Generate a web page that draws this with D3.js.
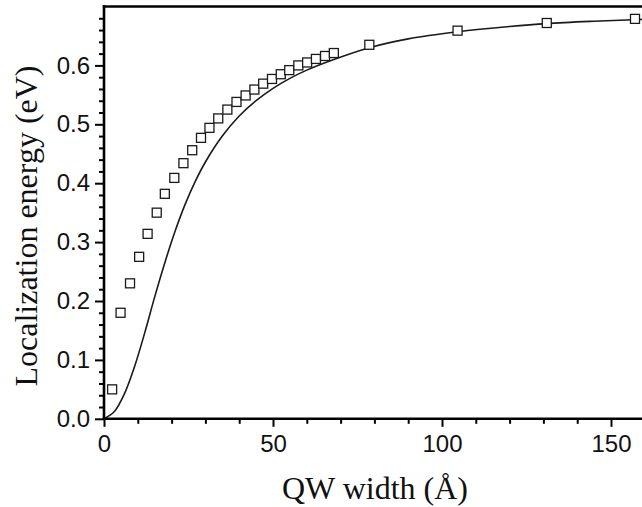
<!DOCTYPE html>
<html>
<head>
<meta charset="utf-8">
<script src="https://cdn.jsdelivr.net/npm/d3@7"></script>
<style>
  html, body { margin: 0; padding: 0; background: #fff; }
  svg { display: block; }
</style>
</head>
<body>
<svg id="chart" width="642" height="507"></svg>
<script>
// Measured data (squares)
const widthData = [2.4, 4.9, 7.7, 10.4, 12.9, 15.6, 18.0, 20.8, 23.5, 26.1, 28.7, 31.2, 33.8, 36.5, 39.2, 41.9, 44.5, 47.1, 49.7, 52.3, 54.8, 57.5, 60.1, 62.7, 65.4, 68.0, 78.5, 104.6, 131.0, 157.1];
const energyData = [0.050, 0.180, 0.230, 0.275, 0.314, 0.350, 0.382, 0.409, 0.434, 0.456, 0.477, 0.494, 0.510, 0.525, 0.538, 0.549, 0.559, 0.569, 0.577, 0.585, 0.592, 0.600, 0.605, 0.611, 0.616, 0.621, 0.635, 0.659, 0.672, 0.679];
// Calculated curve (solid line)
const fitWidth = [0, 3, 6, 9, 12, 15, 18, 21, 24, 27, 30, 35, 40, 45, 50, 55, 60, 68, 78.5, 90, 104.6, 120, 131, 145, 158.6, 170];
const fitEnergy = [0, 0.012, 0.042, 0.088, 0.145, 0.207, 0.265, 0.318, 0.364, 0.403, 0.436, 0.480, 0.514, 0.540, 0.561, 0.578, 0.592, 0.610, 0.630, 0.645, 0.657, 0.666, 0.671, 0.675, 0.678, 0.680];
// Ticks
const xMajorTicks = [0, 50, 100, 150];
const xMinorTicks = [10, 20, 30, 40, 60, 70, 80, 90, 110, 120, 130, 140, 160];
const yMajorTicks = [0.0, 0.1, 0.2, 0.3, 0.4, 0.5, 0.6];
const yMinorTicks = [0.02, 0.04, 0.06, 0.08, 0.12, 0.14, 0.16, 0.18, 0.22, 0.24, 0.26, 0.28, 0.32, 0.34, 0.36, 0.38, 0.42, 0.44, 0.46, 0.48, 0.52, 0.54, 0.56, 0.58, 0.62, 0.64, 0.66, 0.68];
const xTitle = "QW width (Å)";
const yTitle = "Localization energy (eV)";

const svg = d3.select("#chart");
const x0 = 104, xPerUnit = 3.38;
const x = d3.scaleLinear().domain([0, 170]).range([x0, x0 + 170 * xPerUnit]);
const y = d3.scaleLinear().domain([0, 0.7]).range([418.8, 418.8 - 0.7 * 589]);

const tickFont = "'Liberation Sans', Arial, sans-serif";
const titleFont = "'Liberation Serif', 'Times New Roman', serif";

// Curve
const line = d3.line().x((d, i) => x(fitWidth[i])).y((d, i) => y(fitEnergy[i])).curve(d3.curveCatmullRom.alpha(0.5));
svg.append("path")
  .datum(fitWidth)
  .attr("d", line)
  .attr("fill", "none")
  .attr("stroke", "#1a1a1a")
  .attr("stroke-width", 1.6);

// Squares
const sq = 9;
svg.append("g").selectAll("rect")
  .data(widthData)
  .join("rect")
  .attr("x", (d) => x(d) - sq / 2)
  .attr("y", (d, i) => y(energyData[i]) - sq / 2)
  .attr("width", sq)
  .attr("height", sq)
  .attr("fill", "#fff")
  .attr("stroke", "#1a1a1a")
  .attr("stroke-width", 1.3);

// Axes
function styleAxis(g, width) {
  g.select(".domain").remove();
  g.selectAll(".tick line").attr("stroke", "#000").attr("stroke-width", width);
}
const yAxisG = svg.append("g").attr("transform", `translate(${x0},0)`);
yAxisG.call(d3.axisLeft(y).tickValues(yMinorTicks).tickSize(5).tickFormat(""))
  .call((g) => styleAxis(g, 2));
const yAxisMajor = svg.append("g").attr("transform", `translate(${x0},0)`);
yAxisMajor.call(d3.axisLeft(y).tickValues(yMajorTicks).tickSize(9).tickPadding(5).tickFormat(d3.format(".1f")))
  .call((g) => styleAxis(g, 2));
yAxisMajor.selectAll("text")
  .attr("font-family", tickFont)
  .attr("font-size", 24)
  .attr("fill", "#111");

const xAxisG = svg.append("g").attr("transform", `translate(0,${y(0)})`);
xAxisG.call(d3.axisBottom(x).tickValues(xMinorTicks).tickSize(5).tickFormat(""))
  .call((g) => styleAxis(g, 2));
const xAxisMajor = svg.append("g").attr("transform", `translate(0,${y(0)})`);
xAxisMajor.call(d3.axisBottom(x).tickValues(xMajorTicks).tickSize(8).tickPadding(8).tickFormat(d3.format("d")))
  .call((g) => styleAxis(g, 2));
xAxisMajor.selectAll("text")
  .attr("font-family", tickFont)
  .attr("font-size", 24)
  .attr("fill", "#111");

// Axis lines and top border
svg.append("line").attr("x1", x0).attr("x2", x0).attr("y1", y(0.7) - 1.2).attr("y2", y(0) + 1.2)
  .attr("stroke", "#000").attr("stroke-width", 2.6);
svg.append("line").attr("x1", x0 - 1.2).attr("x2", 650).attr("y1", y(0)).attr("y2", y(0))
  .attr("stroke", "#000").attr("stroke-width", 2.6);
svg.append("line").attr("x1", x0 - 1.2).attr("x2", 650).attr("y1", y(0.7)).attr("y2", y(0.7))
  .attr("stroke", "#000").attr("stroke-width", 2.6);

// Titles
svg.append("text")
  .attr("x", 375)
  .attr("y", 499)
  .attr("text-anchor", "middle")
  .attr("font-family", titleFont)
  .attr("font-size", 32)
  .attr("fill", "#111")
  .text(xTitle);
svg.append("text")
  .attr("transform", "translate(37,226) rotate(-90)")
  .attr("text-anchor", "middle")
  .attr("font-family", titleFont)
  .attr("font-size", 32)
  .attr("fill", "#111")
  .text(yTitle);
</script>
</body>
</html>
